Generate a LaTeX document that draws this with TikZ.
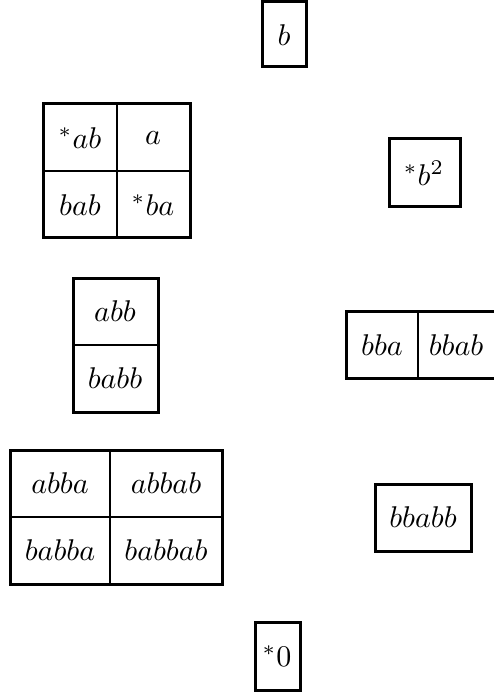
\documentclass[tikz,border=0pt]{standalone}
\begin{document}
\begin{tikzpicture}[x=0.3333pt,y=-0.3333pt,
  frame/.style={line width=1pt},
  divider/.style={line width=0.8pt},
  entry/.style={inner sep=0pt}]
\useasboundingbox (0,0) rectangle (494,693);
\clip (0,0) rectangle (494,693);

% single class b
\draw[frame] (262,2) rectangle (306,67);
\node[entry] (nb) at (284,35) {$b$};

% 2x2 class of a
\draw[frame] (43,104) rectangle (190,238);
\draw[divider] (117,104) -- (117,238) (43,171) -- (190,171);
\node[entry] (nab)  at (80,138)  {$^*ab$};
\node[entry] (na)   at (153,138) {$a$};
\node[entry] (nbab) at (80,205)  {$bab$};
\node[entry] (nba)  at (153,205) {$^*ba$};

% idempotent b^2
\draw[frame] (389,139) rectangle (460,207);
\node[entry] (nbb) at (424,173) {$^*b^2$};

% column abb / babb
\draw[frame] (73,278) rectangle (158,412);
\draw[divider] (73,345) -- (158,345);
\node[entry] (nabb)  at (115,311) {$abb$};
\node[entry] (nbabb) at (115,378) {$babb$};

% row bba / bbab
\draw[frame] (346,311) rectangle (497,378);
\draw[divider] (418,311) -- (418,378);
\node[entry] (nbba)  at (382,345) {$bba$};
\node[entry] (nbbab) at (456,345) {$bbab$};

% 2x2 class of abba
\draw[frame] (10,450) rectangle (222,584);
\draw[divider] (110,450) -- (110,584) (10,517) -- (222,517);
\node[entry] (nabba)   at (60,483)  {$abba$};
\node[entry] (nabbab)  at (166,483) {$abbab$};
\node[entry] (nbabba)  at (60,550)  {$babba$};
\node[entry] (nbabbab) at (166,550) {$babbab$};

% single class bbabb
\draw[frame] (375,484) rectangle (471,551);
\node[entry] (nbbabb) at (423,517) {$bbabb$};

% zero
\draw[frame] (255,622) rectangle (300,690);
\node[entry] (nzero) at (277,656) {$^*0$};
\end{tikzpicture}
\end{document}
